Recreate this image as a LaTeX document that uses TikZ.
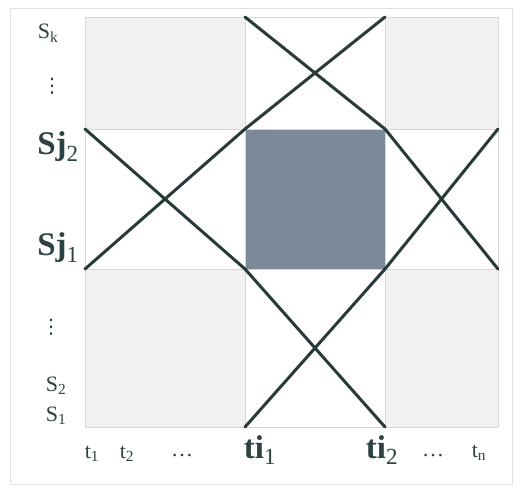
\documentclass[tikz,border=0pt]{standalone}
\usepackage{fontspec}
\setmainfont{Liberation Serif}
\newfontfamily\dotsfont{DejaVu Sans}
\definecolor{linecol}{RGB}{40,58,58}
\definecolor{textcol}{RGB}{45,66,66}
\definecolor{lightcell}{RGB}{241,241,243}
\definecolor{darkcell}{RGB}{122,138,152}
\definecolor{gridcol}{RGB}{215,215,218}
\definecolor{framecol}{RGB}{225,225,225}
\newcommand{\lsub}[1]{\textsubscript{\mdseries #1}}
\tikzset{
  zig/.style={draw=linecol, line width=3pt, line cap=round, line join=round},
  gridln/.style={draw=gridcol, line width=0.8pt},
  smalllab/.style={text=textcol, font=\fontsize{22}{24}\selectfont, inner sep=0pt},
  dotslab/.style={text=textcol, font=\fontsize{20}{22}\selectfont\dotsfont, inner sep=0pt},
  biglab/.style={text=textcol, font=\fontsize{33}{36}\selectfont\bfseries, inner sep=0pt}
}
\begin{document}
\begin{tikzpicture}[x=1pt,y=-1pt]
\useasboundingbox (0,0) rectangle (522,488);
\draw[framecol, line width=1pt] (10,8) rectangle (512,484);
% cells
\fill[lightcell] (85,17) rectangle (245,129);
\fill[lightcell] (385,17) rectangle (498,129);
\fill[lightcell] (85,269) rectangle (245,427);
\fill[lightcell] (385,269) rectangle (498,427);
\fill[darkcell] (245,129) rectangle (385,269);
% grid
\foreach \x in {85,245,385,498} \draw[gridln] (\x,17) -- (\x,427);
\foreach \y in {17,129,269,427} \draw[gridln] (85,\y) -- (498,\y);
% corner points
\coordinate (a1) at (85,129);
\coordinate (a2) at (245,269);
\coordinate (a3) at (385,427);
\coordinate (b1) at (85,269);
\coordinate (b2) at (245,129);
\coordinate (b3) at (385,17);
\coordinate (c1) at (245,17);
\coordinate (c2) at (385,129);
\coordinate (c3) at (498,269);
\coordinate (d1) at (245,427);
\coordinate (d2) at (385,269);
\coordinate (d3) at (498,129);
\draw[zig] (a1) -- (a2) -- (a3);
\draw[zig] (b1) -- (b2) -- (b3);
\draw[zig] (c1) -- (c2) -- (c3);
\draw[zig] (d1) -- (d2) -- (d3);
% row labels
\node[smalllab] (sk) at (48,33) {S\lsub{k}};
\node[dotslab] (vd1) at (52,86) {⋮};
\node[biglab] (sj2) at (58,147) {Sj\lsub{2}};
\node[biglab] (sj1) at (58,248) {Sj\lsub{1}};
\node[dotslab] (vd2) at (51,327) {⋮};
\node[smalllab] (s2) at (56,386) {S\lsub{2}};
\node[smalllab] (s1) at (56,416) {S\lsub{1}};
% column labels
\node[smalllab] (t1) at (92,454) {t\lsub{1}};
\node[smalllab] (t2) at (127,454) {t\lsub{2}};
\node[smalllab] (dl) at (182,456) {\ldots};
\node[biglab] (ti1) at (260,450) {ti\lsub{1}};
\node[biglab] (ti2) at (382,450) {ti\lsub{2}};
\node[smalllab] (dr) at (433,456) {\ldots};
\node[smalllab] (tn) at (479,453) {t\lsub{n}};
\end{tikzpicture}
\end{document}
